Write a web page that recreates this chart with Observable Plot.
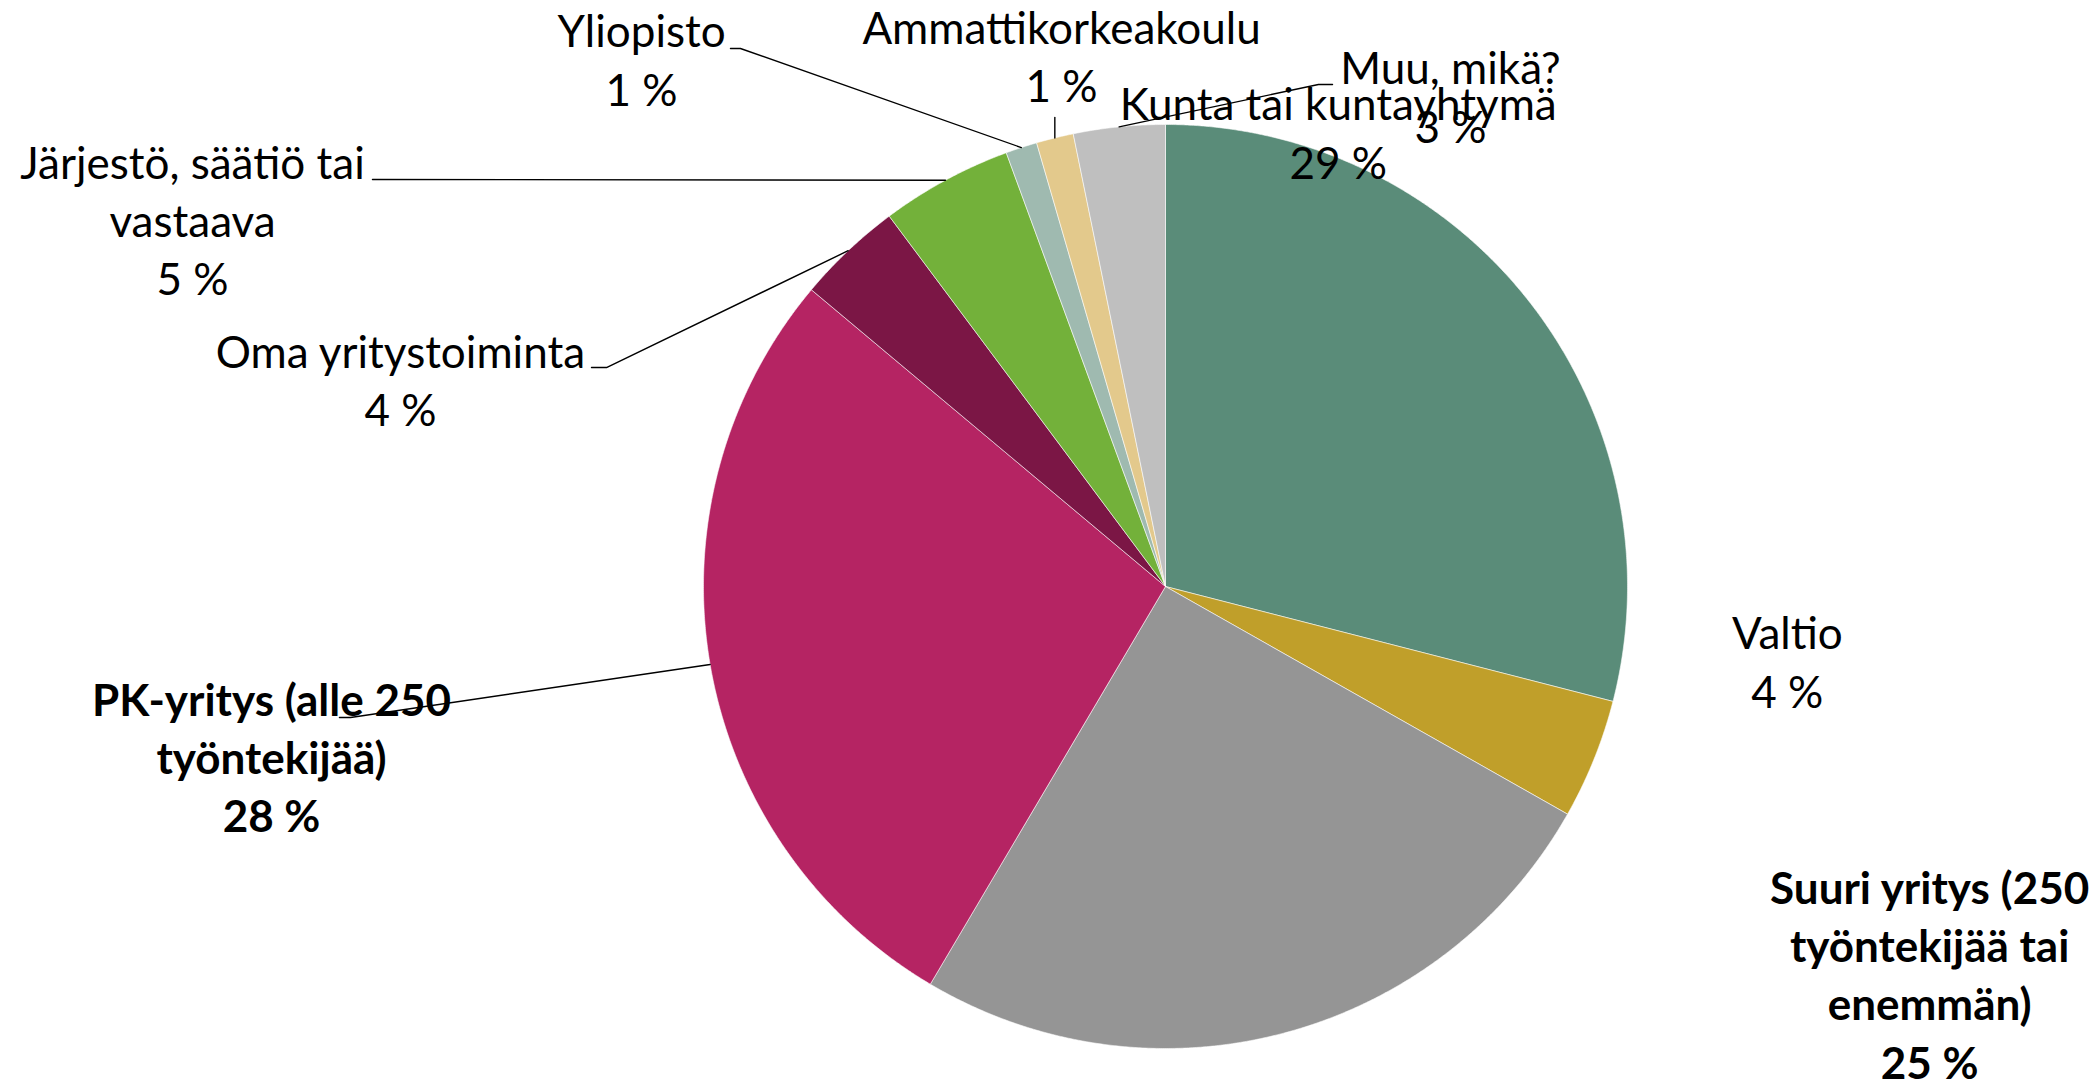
<!DOCTYPE html>
<html><head><meta charset="utf-8">
<script src="https://cdn.jsdelivr.net/npm/d3@7"></script>
<script src="https://cdn.jsdelivr.net/npm/@observablehq/plot@0.6"></script>
<style>html,body{margin:0;padding:0;background:#fff;overflow:hidden}</style>
</head><body><div id="chart"></div>
<script>
// ---- data (clockwise from 12 o'clock) ----
const categories = ["Kunta tai kuntayhtymä", "Valtio", "Suuri yritys (250 työntekijää tai enemmän)", "PK-yritys (alle 250 työntekijää)", "Oma yritystoiminta", "Järjestö, säätiö tai vastaava", "Yliopisto", "Ammattikorkeakoulu", "Muu, mikä?"];
const shares = [29.0, 4.2, 25.3, 27.6, 3.7, 4.6, 1.1, 1.3, 3.2];
const labelNames = ["Kunta tai kuntayhtymä", "Valtio", "Suuri yritys (250\ntyöntekijää tai\nenemmän)", "PK-yritys (alle 250\ntyöntekijää)", "Oma yritystoiminta", "Järjestö, säätiö tai\nvastaava", "Yliopisto", "Ammattikorkeakoulu", "Muu, mikä?"];
const boldLabels = ["Suuri yritys (250 työntekijää tai enemmän)", "PK-yritys (alle 250 työntekijää)"];
const colors = ["#5a8c79", "#c09f2a", "#959595", "#b52463", "#7b1645", "#73b13a", "#9fbab0", "#e3c98c", "#bfbfbf"];

// ---- layout: label anchors in pie-radius units (center = 0,0), last baseline ----
const labelLayout = {
  "Kunta tai kuntayhtymä": {u: 0.374, v: 0.883},
  "Valtio": {u: 1.346, v: -0.262},
  "Suuri yritys (250 työntekijää tai enemmän)": {u: 1.654, v: -1.065},
  "PK-yritys (alle 250 työntekijää)": {u: -1.935, v: -0.532, leader: [[-1.788, -0.2835], [-1.764, -0.2835]]},
  "Oma yritystoiminta": {u: -1.656, v: 0.348, leader: [[-1.2424, 0.474], [-1.21, 0.474]]},
  "Järjestö, säätiö tai vastaava": {u: -2.106, v: 0.630, leader: [[-1.7165, 0.881]]},
  "Yliopisto": {u: -1.134, v: 1.041, leader: [[-0.9416, 1.1645], [-0.920, 1.1645]]},
  "Ammattikorkeakoulu": {u: -0.225, v: 1.048, leader: [["edge", 1.015]]},
  "Muu, mikä?": {u: 0.617, v: 0.961, leader: [[0.3615, 1.0866], [0.331, 1.0866]]}
};

const W = 2098, H = 1088, CX = 1165, CY = 586, R = 462;

const pie = d3.pie().sort(null).value(d => d.share).startAngle(0).endAngle(2 * Math.PI);
const rows = categories.map((name, i) => ({name, share: shares[i], label: labelNames[i]}));
const arcs = pie(rows);

// slice polygons
const slicePts = [];
for (const a of arcs) {
  const n = Math.max(2, Math.ceil((a.endAngle - a.startAngle) / (Math.PI / 720)));
  slicePts.push({name: a.data.name, x: 0, y: 0});
  for (let k = 0; k <= n; k++) {
    const t = a.startAngle + (a.endAngle - a.startAngle) * k / n;
    slicePts.push({name: a.data.name, x: Math.sin(t), y: Math.cos(t)});
  }
  slicePts.push({name: a.data.name, x: 0, y: 0});
}

// leader lines
const leaderPts = [];
for (const a of arcs) {
  const L = labelLayout[a.data.name];
  if (!L.leader) continue;
  const mid = (a.startAngle + a.endAngle) / 2;
  const ex = Math.sin(mid), ey = Math.cos(mid);
  for (const [px, py] of L.leader) leaderPts.push({name: a.data.name, x: px === "edge" ? ex : px, y: py});
  leaderPts.push({name: a.data.name, x: ex, y: ey});
}

const labels = arcs.map(a => ({
  name: a.data.name,
  text: a.data.label + "\n" + Math.round(a.data.share) + " %",
  x: labelLayout[a.data.name].u,
  y: labelLayout[a.data.name].v,
  bold: boldLabels.includes(a.data.name)
}));

const textOpts = {x: "x", y: "y", text: "text", fontSize: 44, lineHeight: 1.32, lineAnchor: "bottom", textAnchor: "middle", fill: "#000"};

const chart = Plot.plot({
  width: W, height: H,
  margin: 0,
  style: {fontFamily: "Lato, 'Open Sans', sans-serif", background: "#fff"},
  x: {domain: [-CX / R, (W - CX) / R], axis: null},
  y: {domain: [-(H - CY) / R, CY / R], axis: null},
  color: {domain: categories, range: colors},
  marks: [
    Plot.line(slicePts, {x: "x", y: "y", z: "name", fill: "name", stroke: "#fff", strokeWidth: 0.7, strokeOpacity: 0.8, strokeLinejoin: "round"}),
    Plot.line(leaderPts, {x: "x", y: "y", z: "name", stroke: "#000", strokeWidth: 1.4}),
    Plot.text(labels.filter(d => !d.bold), {...textOpts, fontWeight: "normal"}),
    Plot.text(labels.filter(d => d.bold), {...textOpts, fontWeight: "bold"})
  ]
});
document.getElementById("chart").appendChild(chart);
</script>
</body></html>
